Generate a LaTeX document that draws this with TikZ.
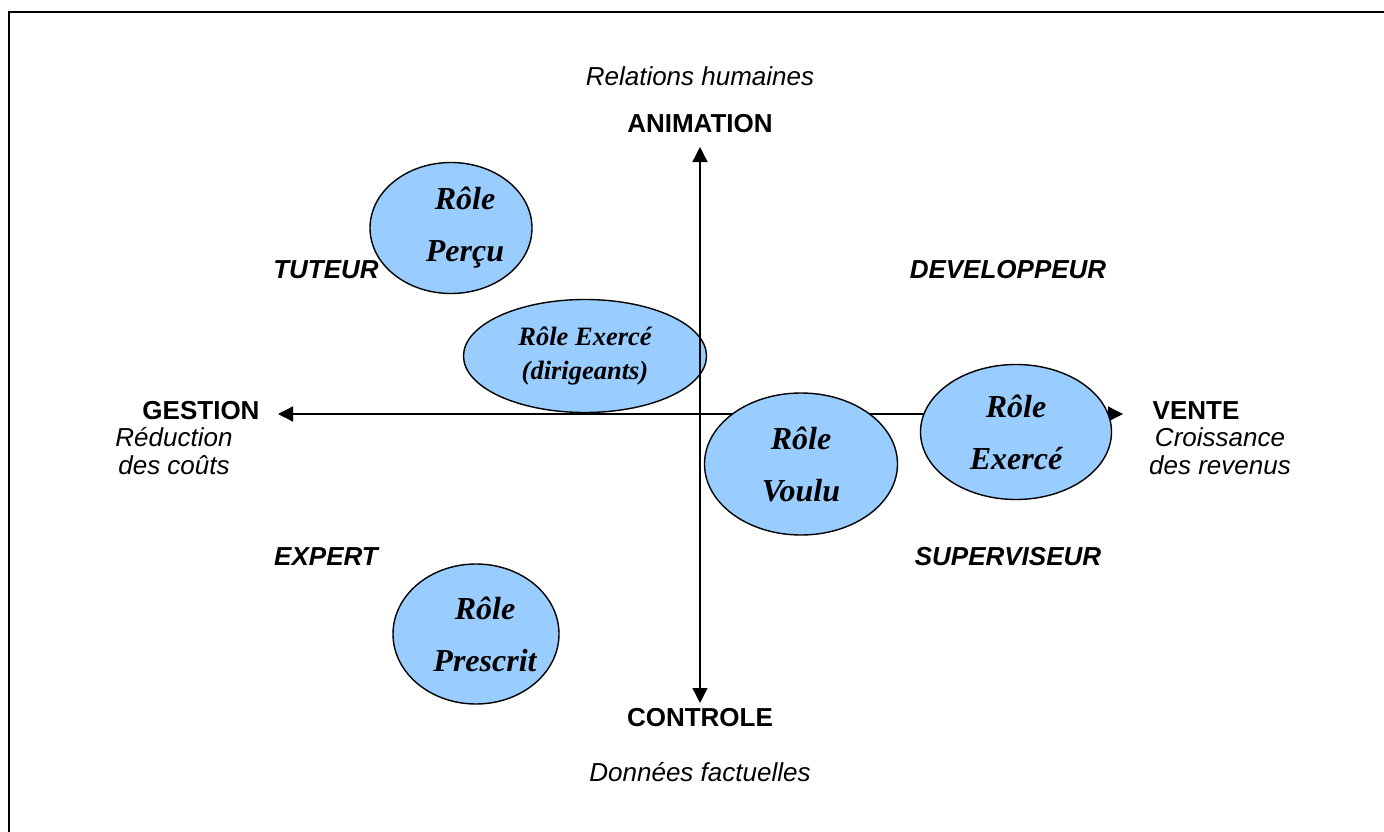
\documentclass[tikz,border=0pt]{standalone}
\usepackage{fontspec}
\setmainfont{Liberation Serif}
\newfontfamily\arialf{Liberation Sans}
\usetikzlibrary{arrows.meta,shapes.geometric}
\definecolor{roleblue}{HTML}{99CCFF}
\tikzset{
  axisline/.style={line width=1.3pt,draw=black,{Triangle[length=15pt,width=15pt]}-{Triangle[length=15pt,width=15pt]}},
  rolebox/.style={ellipse,draw=black,line width=1.4pt,fill=roleblue,inner sep=0pt,align=center,
     font=\fontsize{32}{52}\selectfont\bfseries\itshape},
  roletext/.style={inner sep=0pt,align=center,font=\fontsize{32}{52}\selectfont\bfseries\itshape},
  axislabel/.style={font=\arialf\fontsize{26}{28}\selectfont\bfseries,inner sep=0pt},
  sublabel/.style={font=\arialf\fontsize{26}{28}\selectfont\itshape,inner sep=0pt,align=center},
  quadlabel/.style={font=\arialf\fontsize{26}{28}\selectfont\bfseries\itshape,inner sep=0pt}
}
\begin{document}
\begin{tikzpicture}[x=1pt,y=-1pt]
\useasboundingbox (0,0) rectangle (1384,832);
\draw[line width=2.5pt] (9,900) -- (9,12) -- (1400,12);
% labels
\node[sublabel] (rh) at (700,76) {Relations humaines};
\node[axislabel] (anim) at (700,124) {ANIMATION};
\node[axislabel] (ctrl) at (700,718) {CONTROLE};
\node[sublabel] (df) at (700,772) {Données factuelles};
\node[axislabel] (gest) at (201,411) {GESTION};
\node[sublabel] (rdc) at (174,451) {Réduction\\des coûts};
\node[axislabel] (vente) at (1196,411) {VENTE};
\node[sublabel] (cdr) at (1220,451) {Croissance\\des revenus};
\node[quadlabel] (tut) at (326,270) {TUTEUR};
\node[quadlabel] (dev) at (1008,270) {DEVELOPPEUR};
\node[quadlabel] (exp) at (326,557) {EXPERT};
\node[quadlabel] (sup) at (1008,557) {SUPERVISEUR};
% ellipse drawn under the vertical axis
\node[rolebox,minimum width=243pt,minimum height=113pt,
      font=\fontsize{26.5}{34}\selectfont\bfseries\itshape] (rexd) at (585,356) {Rôle Exercé\\(dirigeants)};
% axes
\coordinate (ytop) at (700,147);
\coordinate (ybot) at (700,703);
\coordinate (xleft) at (278,414);
\coordinate (xright) at (1123,414);
\draw[axisline] (ybot) -- (ytop);
\draw[axisline] (xleft) -- (xright);
% other ellipses
\node[rolebox,minimum width=162pt,minimum height=131pt] (rp) at (451,228) {};
\node[roletext] (rpt) at ([xshift=14pt]rp.center) {Rôle\\Perçu};
\node[rolebox,minimum width=193pt,minimum height=142pt] (rv) at (801,464) {Rôle\\Voulu};
\node[rolebox,minimum width=191pt,minimum height=135pt] (rex) at (1016,432) {Rôle\\Exercé};
\node[rolebox,minimum width=166pt,minimum height=140pt] (rpr) at (476,634) {};
\node[roletext] (rprt) at ([xshift=9pt]rpr.center) {Rôle\\Prescrit};
\end{tikzpicture}
\end{document}
